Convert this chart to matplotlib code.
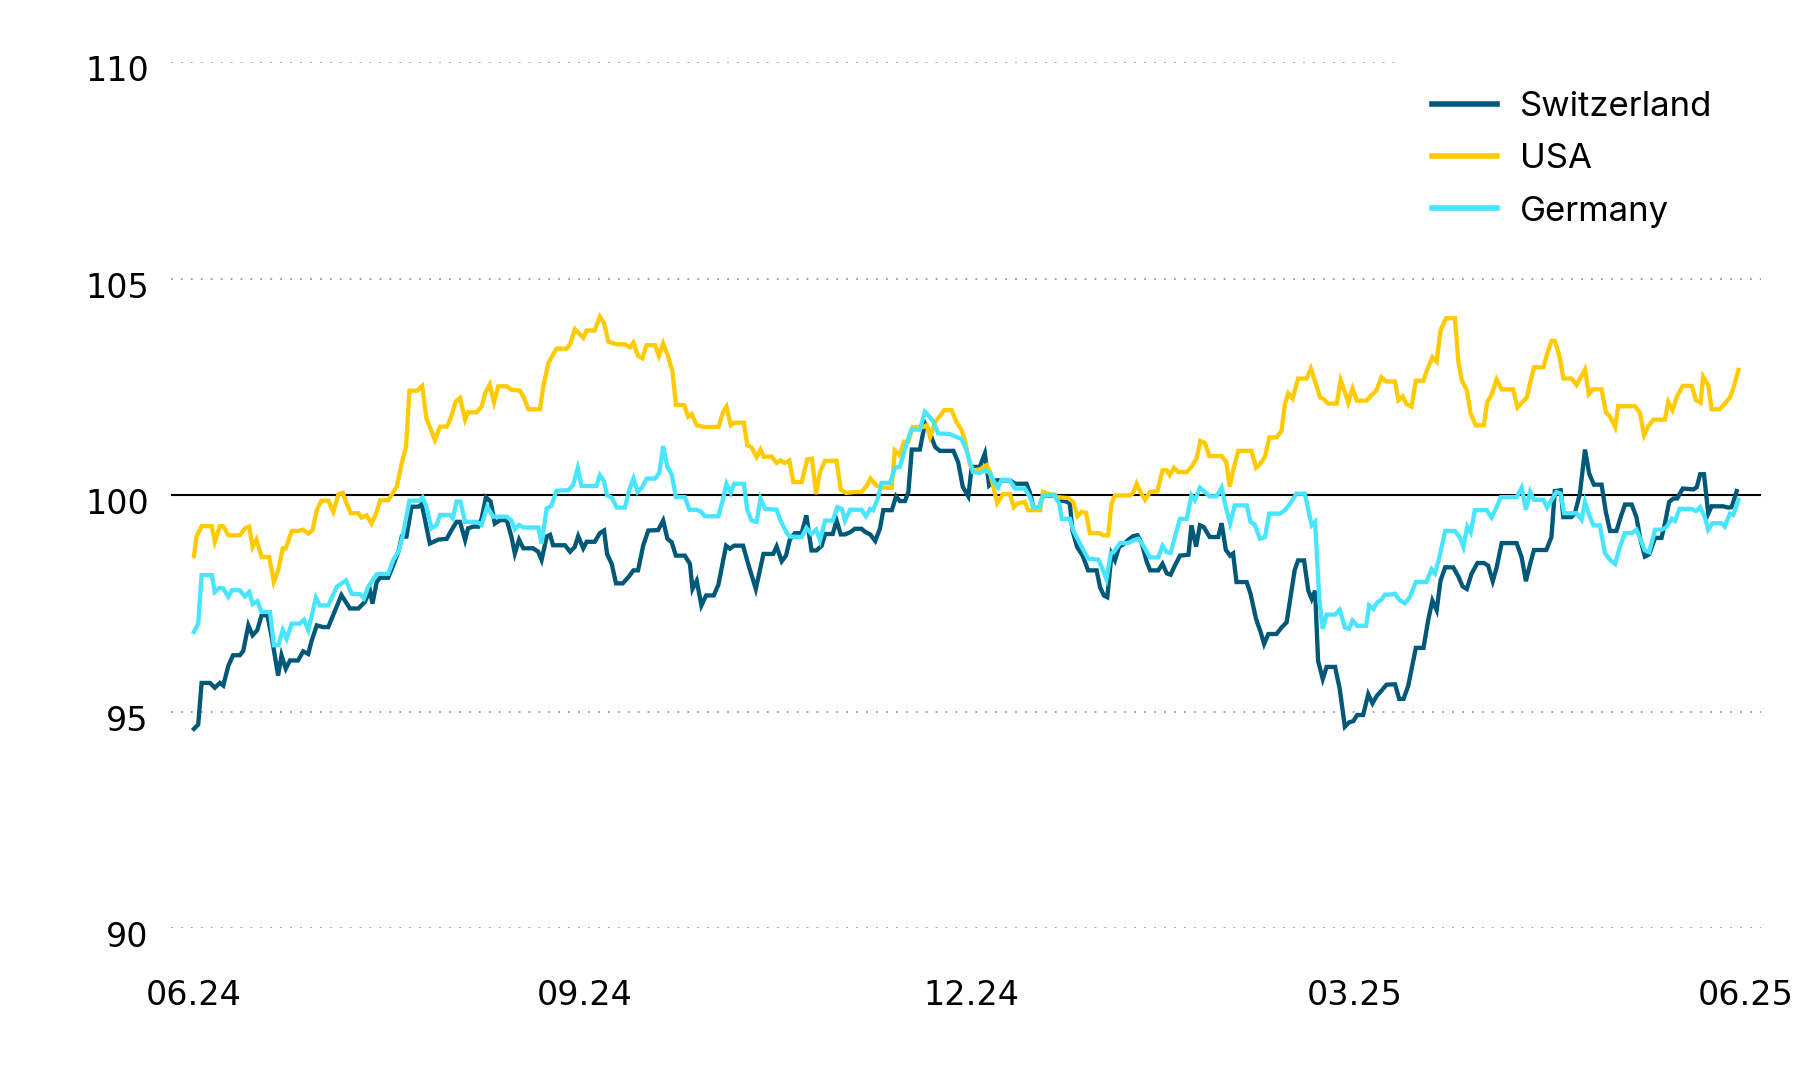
import pandas as pd
import matplotlib
matplotlib.use("Agg")
import matplotlib.pyplot as plt
import matplotlib.dates as mdates
from matplotlib.transforms import ScaledTranslation

START = pd.Timestamp("2024-06-01")

# days after START, index level
ch_days = [0, 1.0, 1.8, 3.8, 4.9, 6.1, 6.9, 8.1, 9.2, 10.8, 11.6, 12.8, 13.8, 14.9, 15.9, 17.3, 18.3, 19.8,
           20.6, 21.6, 22.6, 24.5, 25.7, 26.9, 27.7, 28.9, 30.4, 31.6, 32.9, 34.7, 36.7, 38.7, 40.2, 41.4,
           42.0, 43.0, 43.8, 45.7, 46.9, 48.1, 48.9, 50.0, 51.2, 52.8, 53.6, 54.7, 55.5, 57.5, 59.5, 60.6,
           61.8, 62.6, 63.8, 64.5, 65.7, 66.9, 67.7, 68.7, 69.8, 70.8, 72.0, 73.6, 74.7, 75.5, 76.5, 77.5,
           79.8, 81.0, 81.8, 83.0, 83.8, 84.5, 87.3, 88.5, 89.6, 90.4, 91.6, 92.4, 94.3, 95.5, 96.5, 97.2,
           98.3, 99.3, 100.9, 102.2, 103.4, 104.5, 105.7, 106.9, 109.2, 110.4, 111.4, 112.4, 113.4, 115.5,
           116.7, 117.3, 118.3, 119.4, 120.5, 122.3, 123.4, 125.2, 126.1, 127.1, 129.2, 130.4, 132.2, 134.0,
           136.3, 137.1, 138.3, 139.3, 140.2, 141.4, 143.0, 144.1, 145.3, 146.5, 147.7, 148.5, 150.3, 151.2,
           152.2, 153.2, 154.4, 155.5, 157.1, 157.9, 159.1, 160.3, 161.4, 162.2, 164.2, 165.2, 166.1, 167.3,
           168.1, 168.9, 170.8, 172.0, 173.2, 174.4, 175.5, 178.7, 179.8, 180.9, 182.2, 183.0, 184.9, 186.1,
           187.1, 188.5, 192.0, 193.2, 195.9, 196.7, 197.5, 198.9, 199.8, 202.6, 203.7, 205.3, 206.1, 206.7,
           207.8, 209.1, 210.4, 212.4, 213.2, 214.1, 214.9, 215.9, 216.7, 217.7, 218.7, 219.9, 221.0, 222.0,
           223.0, 224.2, 225.0, 226.9, 227.9, 228.9, 229.8, 230.8, 232.0, 234.0, 234.7, 235.8, 236.7, 237.6,
           239.0, 241.0, 241.8, 242.8, 243.8, 244.5, 245.3, 247.7, 248.6, 249.9, 251.0, 251.8, 252.8, 254.7,
           255.9, 257.1, 258.0, 259.0, 259.8, 261.2, 262.2, 263.0, 263.8, 264.5, 265.6, 266.5, 268.5, 269.6,
           270.8, 271.8, 272.8, 273.7, 275.1, 276.3, 277.3, 278.3, 279.4, 280.6, 282.6, 283.6, 284.6, 285.7,
           287.5, 289.3, 290.4, 291.4, 292.4, 293.3, 294.4, 296.3, 297.5, 298.5, 299.5, 300.6, 302.0, 303.5,
           304.5, 305.6, 306.5, 307.7, 311.2, 312.4, 313.4, 314.4, 315.3, 318.2, 319.4, 320.2, 321.6, 322.2,
           324.1, 324.9, 326.1, 327.3, 328.3, 329.4, 331.2, 332.2, 333.2, 334.7, 335.7, 336.7, 338.3, 339.4,
           340.4, 341.4, 342.4, 343.8, 345.3, 346.1, 347.1, 348.1, 349.0, 350.3, 352.8, 353.6, 354.4, 355.3,
           356.3, 357.1, 359.8, 361.0, 361.8, 363.0]
ch_vals = [94.6, 94.7, 95.66, 95.66, 95.55, 95.66, 95.6, 96.06, 96.3, 96.3, 96.4, 96.99, 96.76, 96.88, 97.22,
           97.22, 96.72, 95.83, 96.3, 95.99, 96.18, 96.18, 96.39, 96.33, 96.64, 96.99, 96.95, 96.95, 97.26,
           97.69, 97.38, 97.38, 97.53, 97.8, 97.49, 97.99, 98.09, 98.09, 98.38, 98.69, 99.04, 99.04, 99.73,
           99.73, 99.79, 99.27, 98.88, 98.97, 98.99, 99.19, 99.38, 99.38, 98.96, 99.23, 99.27, 99.27, 99.46,
           99.95, 99.85, 99.34, 99.42, 99.42, 99.04, 98.65, 98.97, 98.77, 98.77, 98.69, 98.5, 99.04, 99.08,
           98.84, 98.84, 98.69, 98.8, 99.05, 98.77, 98.92, 98.92, 99.12, 99.18, 98.64, 98.41, 97.96, 97.96,
           98.1, 98.26, 98.26, 98.83, 99.18, 99.19, 99.41, 98.99, 98.91, 98.6, 98.6, 98.41, 97.83, 98.02,
           97.45, 97.68, 97.68, 97.93, 98.83, 98.76, 98.83, 98.83, 98.41, 97.83, 98.64, 98.64, 98.81, 98.47,
           98.6, 98.97, 99.12, 99.12, 99.53, 98.72, 98.72, 98.83, 99.1, 99.1, 99.41, 99.09, 99.09, 99.14,
           99.22, 99.22, 99.15, 99.09, 98.94, 99.22, 99.65, 99.65, 99.97, 99.86, 99.86, 100.07, 101.05,
           101.05, 101.65, 101.42, 101.11, 101.02, 101.02, 100.76, 100.19, 99.97, 100.65, 100.65, 100.96,
           100.22, 100.34, 100.34, 100.26, 100.26, 100.05, 99.72, 99.72, 99.99, 99.99, 99.88, 99.85, 99.8,
           99.18, 98.8, 98.6, 98.26, 98.26, 97.87, 97.68, 97.64, 98.64, 98.49, 98.81, 98.86, 98.97, 99.05,
           99.07, 98.89, 98.45, 98.26, 98.26, 98.41, 98.19, 98.16, 98.37, 98.6, 98.62, 99.3, 98.81, 99.3,
           99.26, 99.03, 99.03, 99.35, 98.73, 98.6, 98.65, 97.99, 97.99, 97.72, 97.14, 96.83, 96.56, 96.79,
           96.79, 96.94, 97.06, 97.64, 98.27, 98.49, 98.49, 97.79, 97.6, 97.79, 96.17, 95.75, 96.03, 96.03,
           95.52, 94.65, 94.75, 94.78, 94.92, 94.92, 95.4, 95.19, 95.36, 95.48, 95.62, 95.63, 95.29, 95.29,
           95.59, 96.47, 96.47, 97.11, 97.56, 97.34, 98.02, 98.33, 98.33, 98.12, 97.89, 97.83, 98.18, 98.43,
           98.43, 98.37, 98.01, 98.32, 98.89, 98.89, 98.56, 98.01, 98.41, 98.73, 98.73, 99.03, 100.09,
           100.11, 99.49, 99.49, 99.57, 100.03, 101.05, 100.49, 100.24, 100.24, 99.61, 99.17, 99.17, 99.49,
           99.78, 99.78, 99.49, 98.95, 98.58, 98.63, 99.01, 99.01, 99.34, 99.84, 99.92, 99.92, 100.15,
           100.13, 100.18, 100.48, 100.48, 99.57, 99.74, 99.74, 99.71, 99.72, 100.09]

us_days = [0, 0.6, 1.8, 4.2, 4.9, 6.1, 6.9, 8.1, 10.8, 12.0, 13.0, 13.8, 14.7, 15.9, 17.7, 18.8, 19.8, 20.9,
           21.6, 23.0, 24.5, 25.7, 26.9, 27.9, 28.9, 30.0, 31.6, 32.8, 34.0, 35.0, 35.9, 36.9, 38.7, 39.4,
           40.6, 41.8, 43.0, 43.8, 45.7, 47.7, 48.9, 49.9, 50.7, 52.5, 53.7, 54.7, 56.7, 57.9, 59.5, 60.4,
           61.6, 62.6, 63.8, 64.5, 66.5, 67.7, 68.5, 69.6, 70.6, 71.6, 73.6, 74.7, 76.7, 77.5, 78.7, 81.4,
           82.2, 83.4, 85.3, 87.7, 88.6, 89.6, 91.6, 92.4, 94.3, 95.5, 96.5, 97.5, 99.5, 101.4, 102.6, 103.4,
           104.5, 105.5, 106.5, 108.5, 109.4, 110.4, 111.6, 112.6, 113.4, 115.3, 116.3, 117.1, 118.3, 120.2,
           123.4, 124.5, 125.3, 126.3, 127.1, 129.4, 130.2, 131.2, 132.4, 133.3, 134.1, 135.9, 137.1, 138.0,
           139.0, 140.1, 141.0, 143.0, 144.3, 145.4, 146.4, 147.3, 148.5, 151.2, 152.2, 153.4, 155.5, 157.1,
           158.3, 159.2, 160.5, 161.8, 164.2, 164.9, 166.0, 167.1, 168.1, 169.1, 171.6, 172.4, 173.2, 174.4,
           175.4, 176.5, 178.3, 179.4, 180.6, 181.4, 182.6, 183.4, 184.9, 186.5, 187.3, 188.1, 189.0, 190.4,
           192.0, 192.9, 193.9, 195.5, 196.3, 199.1, 199.8, 201.0, 202.2, 203.1, 205.7, 206.9, 207.9, 208.9,
           209.9, 210.8, 213.0, 214.0, 215.1, 215.9, 216.7, 220.2, 221.0, 221.8, 222.7, 223.8, 224.9, 226.7,
           227.9, 228.9, 229.6, 230.6, 231.6, 233.6, 234.7, 235.9, 236.8, 237.9, 238.9, 241.8, 242.9, 243.7,
           244.5, 245.7, 248.8, 249.9, 250.8, 252.0, 253.0, 254.7, 255.9, 256.7, 257.5, 258.5, 259.8, 261.8,
           262.8, 263.8, 265.0, 265.9, 266.9, 268.9, 269.8, 270.8, 271.6, 272.6, 273.6, 275.9, 277.1, 278.2,
           279.4, 280.6, 282.6, 283.4, 284.4, 285.3, 286.5, 287.5, 289.3, 290.0, 291.4, 292.4, 293.3, 294.6,
           296.7, 297.5, 298.3, 299.5, 300.4, 301.6, 303.5, 304.3, 305.3, 306.5, 307.7, 310.4, 311.4, 312.4,
           313.6, 314.4, 315.3, 317.5, 318.4, 319.4, 320.2, 321.3, 322.2, 324.1, 325.3, 327.3, 328.2, 329.1,
           331.2, 332.2, 333.2, 334.4, 335.1, 339.1, 340.2, 341.2, 342.2, 343.4, 346.1, 346.9, 347.9, 348.9,
           350.3, 352.4, 353.4, 354.5, 355.1, 356.3, 357.1, 359.0, 360.2, 361.4, 362.2, 363.4]
us_vals = [98.59, 99.04, 99.28, 99.28, 98.92, 99.28, 99.28, 99.07, 99.07, 99.23, 99.27, 98.8, 98.97, 98.57,
           98.57, 97.99, 98.26, 98.77, 98.77, 99.17, 99.17, 99.2, 99.11, 99.19, 99.65, 99.87, 99.87, 99.61,
           100.02, 100.05, 99.81, 99.58, 99.58, 99.48, 99.53, 99.34, 99.61, 99.88, 99.88, 100.19, 100.73,
           101.12, 102.41, 102.41, 102.52, 101.77, 101.27, 101.58, 101.58, 101.77, 102.16, 102.24, 101.74,
           101.91, 101.91, 102.04, 102.35, 102.55, 102.14, 102.51, 102.51, 102.43, 102.41, 102.28, 101.98,
           101.98, 102.51, 103.05, 103.38, 103.38, 103.5, 103.83, 103.63, 103.8, 103.8, 104.12, 103.97,
           103.54, 103.48, 103.48, 103.41, 103.52, 103.21, 103.16, 103.46, 103.46, 103.21, 103.5, 103.19,
           102.85, 102.08, 102.08, 101.81, 101.87, 101.61, 101.57, 101.57, 101.92, 102.04, 101.61, 101.67,
           101.67, 101.15, 101.1, 100.88, 101.05, 100.88, 100.89, 100.74, 100.8, 100.74, 100.8, 100.3, 100.3,
           100.82, 100.84, 100.02, 100.53, 100.79, 100.79, 100.12, 100.05, 100.07, 100.07, 100.22, 100.38,
           100.22, 100.17, 100.17, 101.03, 100.92, 101.23, 101.23, 101.57, 101.57, 101.61, 101.34, 101.69,
           101.81, 101.96, 101.96, 101.69, 101.5, 101.27, 100.69, 100.57, 100.59, 100.69, 100.53, 100.19,
           99.81, 100.02, 100.02, 99.72, 99.81, 99.84, 99.65, 99.65, 100.07, 100.03, 100.01, 99.95, 99.93,
           99.84, 99.51, 99.61, 99.59, 99.12, 99.12, 99.07, 99.07, 99.8, 99.99, 99.99, 100.05, 100.26,
           100.07, 99.89, 100.07, 100.09, 100.57, 100.57, 100.46, 100.63, 100.53, 100.53, 100.65, 100.84,
           101.25, 101.2, 100.9, 100.9, 100.76, 100.19, 100.57, 101.02, 101.02, 100.63, 100.71, 100.88,
           101.33, 101.33, 101.48, 102.11, 102.35, 102.23, 102.69, 102.69, 102.92, 102.62, 102.25, 102.21,
           102.11, 102.11, 102.65, 102.38, 102.13, 102.46, 102.18, 102.18, 102.31, 102.41, 102.72, 102.62,
           102.62, 102.19, 102.28, 102.1, 102.04, 102.64, 102.64, 102.85, 103.18, 103.08, 103.8, 104.08,
           104.08, 103.08, 102.65, 102.42, 101.88, 101.61, 101.61, 102.15, 102.31, 102.67, 102.44, 102.44,
           102.02, 102.13, 102.25, 102.59, 102.95, 102.95, 103.26, 103.56, 103.56, 103.21, 102.69, 102.69,
           102.54, 102.9, 102.33, 102.44, 102.44, 101.92, 101.81, 101.57, 102.05, 102.05, 101.9, 101.38,
           101.59, 101.74, 101.74, 102.15, 101.96, 102.27, 102.52, 102.52, 102.19, 102.13, 102.73, 102.54,
           101.98, 101.98, 102.11, 102.25, 102.46, 102.89]

de_days = [0, 1.0, 1.8, 4.2, 4.9, 6.0, 6.9, 8.1, 8.9, 10.8, 12.0, 13.0, 13.8, 14.9, 15.9, 17.9, 18.8, 19.8,
           20.9, 21.8, 23.0, 24.9, 25.9, 26.9, 28.7, 29.6, 31.6, 33.6, 35.8, 37.1, 39.1, 40.0, 41.0, 43.0,
           43.8, 45.7, 46.9, 48.1, 49.1, 50.7, 53.0, 53.8, 54.7, 55.9, 57.1, 57.9, 60.2, 60.9, 61.8, 62.7,
           63.8, 66.5, 67.7, 69.0, 70.4, 73.6, 74.7, 75.5, 76.5, 77.5, 81.0, 81.8, 83.0, 84.1, 85.3, 88.1,
           89.2, 90.3, 91.2, 94.7, 95.5, 96.5, 97.2, 98.3, 99.5, 101.4, 102.4, 103.4, 104.4, 105.4, 106.5,
           108.5, 109.5, 110.4, 111.4, 112.4, 113.4, 115.5, 116.6, 118.3, 119.4, 120.2, 123.4, 124.4, 125.3,
           126.3, 127.1, 129.4, 130.2, 131.2, 132.4, 133.3, 134.4, 137.1, 138.0, 139.4, 140.2, 143.0, 144.1,
           145.3, 146.4, 147.3, 148.5, 150.3, 151.4, 152.4, 153.2, 154.4, 157.1, 158.1, 159.1, 159.8, 160.8,
           161.8, 163.8, 164.9, 166.1, 167.3, 168.8, 170.8, 172.0, 173.2, 173.9, 175.1, 177.8, 179.4, 180.6,
           181.8, 183.3, 184.9, 186.1, 187.3, 188.5, 189.2, 190.0, 191.9, 193.2, 195.5, 196.7, 197.5, 198.9,
           199.8, 202.2, 203.6, 204.2, 206.1, 206.9, 208.9, 210.4, 212.8, 213.6, 214.7, 215.7, 216.7, 217.9,
           219.8, 221.0, 222.2, 223.0, 223.8, 224.9, 226.9, 227.9, 228.9, 229.8, 230.8, 232.0, 233.6, 234.7,
           235.5, 236.7, 237.6, 239.0, 240.6, 241.8, 242.6, 243.8, 244.9, 247.7, 248.6, 249.6, 250.8, 252.0,
           253.0, 255.5, 256.7, 257.9, 259.4, 261.4, 262.2, 263.0, 263.8, 264.8, 265.6, 266.5, 268.5, 269.6,
           270.8, 271.8, 272.6, 273.7, 275.8, 276.5, 277.5, 278.4, 279.4, 280.2, 281.4, 282.6, 283.6, 284.9,
           286.1, 287.5, 290.0, 291.2, 292.0, 293.0, 294.4, 296.7, 297.9, 298.7, 299.6, 300.4, 301.4, 304.2,
           305.3, 306.5, 307.5, 311.2, 312.4, 313.4, 314.4, 315.3, 317.5, 318.4, 319.8, 320.6, 321.6, 322.4,
           325.3, 326.5, 327.3, 328.3, 329.3, 330.8, 332.0, 333.2, 334.4, 335.5, 336.7, 338.3, 339.4, 340.4,
           341.4, 342.4, 343.8, 345.3, 346.5, 347.7, 348.5, 349.5, 352.4, 353.4, 354.4, 355.5, 356.3, 357.3,
           359.4, 360.2, 361.4, 362.2, 363.4]
de_vals = [96.84, 97.03, 98.15, 98.15, 97.76, 97.86, 97.84, 97.65, 97.8, 97.8, 97.66, 97.76, 97.48, 97.55,
           97.3, 97.3, 96.53, 96.53, 96.88, 96.68, 97.03, 97.03, 97.12, 96.88, 97.63, 97.45, 97.45, 97.88,
           98.03, 97.72, 97.71, 97.61, 97.88, 98.17, 98.18, 98.18, 98.5, 98.69, 99.05, 99.87, 99.87, 99.95,
           99.73, 99.23, 99.31, 99.54, 99.54, 99.46, 99.85, 99.85, 99.38, 99.38, 99.31, 99.73, 99.5, 99.5,
           99.41, 99.21, 99.31, 99.25, 99.25, 98.88, 99.69, 99.75, 100.1, 100.11, 100.23, 100.62, 100.21,
           100.21, 100.46, 100.32, 99.99, 99.94, 99.71, 99.71, 100.11, 100.38, 100.07, 100.17, 100.38,
           100.38, 100.51, 101.13, 100.65, 100.48, 99.95, 99.95, 99.66, 99.66, 99.61, 99.51, 99.51, 99.88,
           100.26, 100.05, 100.26, 100.26, 99.65, 99.41, 99.38, 99.92, 99.68, 99.66, 99.41, 99.14, 99.04,
           99.03, 99.24, 99.1, 99.2, 98.95, 99.41, 99.41, 99.72, 99.68, 99.41, 99.66, 99.66, 99.51, 99.68,
           99.65, 99.89, 100.28, 100.28, 100.63, 100.65, 101.07, 101.51, 101.51, 101.92, 101.79, 101.71,
           101.42, 101.41, 101.34, 101.3, 101.03, 100.53, 100.51, 100.57, 100.51, 100.26, 100.17, 100.35,
           100.35, 100.15, 100.15, 99.95, 99.72, 99.72, 99.99, 100.01, 99.81, 99.45, 99.45, 99.18, 98.8,
           98.53, 98.51, 98.33, 98.06, 98.64, 98.72, 98.89, 98.89, 98.95, 98.99, 98.89, 98.76, 98.56, 98.56,
           98.83, 98.68, 98.66, 99.03, 99.45, 99.45, 99.99, 99.88, 100.17, 100.09, 99.97, 99.97, 100.17,
           99.8, 99.34, 99.76, 99.76, 99.38, 99.32, 98.99, 99.03, 99.57, 99.57, 99.65, 99.8, 100.03, 100.03,
           99.65, 99.3, 99.38, 97.56, 96.91, 97.24, 97.24, 97.35, 96.94, 96.91, 97.1, 96.98, 96.98, 97.45,
           97.37, 97.52, 97.58, 97.7, 97.7, 97.72, 97.58, 97.5, 97.64, 97.99, 97.99, 98.29, 98.19, 98.55,
           99.17, 99.17, 99.01, 98.8, 99.27, 99.14, 99.65, 99.65, 99.48, 99.72, 99.95, 99.95, 100.17, 99.66,
           100.07, 99.89, 99.89, 99.71, 99.95, 100.07, 100.03, 99.58, 99.58, 99.43, 99.84, 99.53, 99.3, 99.3,
           98.66, 98.5, 98.41, 98.8, 99.12, 99.12, 99.2, 98.97, 98.72, 98.68, 99.2, 99.2, 99.26, 99.45, 99.4,
           99.68, 99.68, 99.63, 99.72, 99.49, 99.2, 99.35, 99.35, 99.27, 99.57, 99.54, 99.89]

series = [
    ("Switzerland", ch_days, ch_vals, "#005878"),
    ("USA", us_days, us_vals, "#ffcb00"),
    ("Germany", de_days, de_vals, "#48e5ff"),
]

y_ticks = [90, 95, 100, 105, 110]
x_ticks = ["2024-06-01", "2024-09-01", "2024-12-01", "2025-03-01", "2025-06-01"]

fig = plt.figure(figsize=(18, 10.8), dpi=100)
ax = fig.add_axes([0.095, 0.1407, 0.8833, 0.8019])

# grid: dotted, except the 100 baseline
for y in y_ticks:
    if y == 100:
        ax.axhline(y, color="black", lw=1.5, zorder=1)
    elif y == 110:
        ax.axhline(y, xmax=0.771, color="#999999", lw=1.3, ls=(0, (1, 4.5)), zorder=0)
    else:
        ax.axhline(y, color="#999999", lw=1.3, ls=(0, (1, 4.5)), zorder=0)

for name, days, vals, color in series:
    x = START + pd.to_timedelta(days, unit="D")
    ax.plot(x, vals, color=color, lw=3.1, label=name, zorder=2,
            solid_joinstyle="miter")

ax.set_ylim(90, 110)
ax.set_xlim(START - pd.Timedelta(days=5.4), START + pd.Timedelta(days=368.7))

ax.set_yticks(y_ticks)
ax.set_yticklabels([str(v) for v in y_ticks])
ax.set_xticks(pd.to_datetime(x_ticks))
ax.xaxis.set_major_formatter(mdates.DateFormatter("%m.%y"))
ax.tick_params(axis="both", length=0, labelsize=24, colors="black")
ax.tick_params(axis="y", pad=16)
ax.tick_params(axis="x", pad=37)
for lab in ax.get_xticklabels() + ax.get_yticklabels():
    lab.set_family("DejaVu Sans")
# y labels sit a little below their lines
shift = ScaledTranslation(0, -6 / 100, fig.dpi_scale_trans)
for lab in ax.get_yticklabels():
    lab.set_transform(lab.get_transform() + shift)

for s in ax.spines.values():
    s.set_visible(False)

leg = fig.legend(loc="upper left", bbox_to_anchor=(1432 / 1800, 1 - 91 / 1080),
                 frameon=False, handlelength=1.87, handletextpad=0.66,
                 labelspacing=0.585, borderpad=0, borderaxespad=0,
                 prop={"family": "Inter", "size": 25})
for h in leg.get_lines():
    h.set_linewidth(4)

fig.savefig("out.png", dpi=100, facecolor="white")
